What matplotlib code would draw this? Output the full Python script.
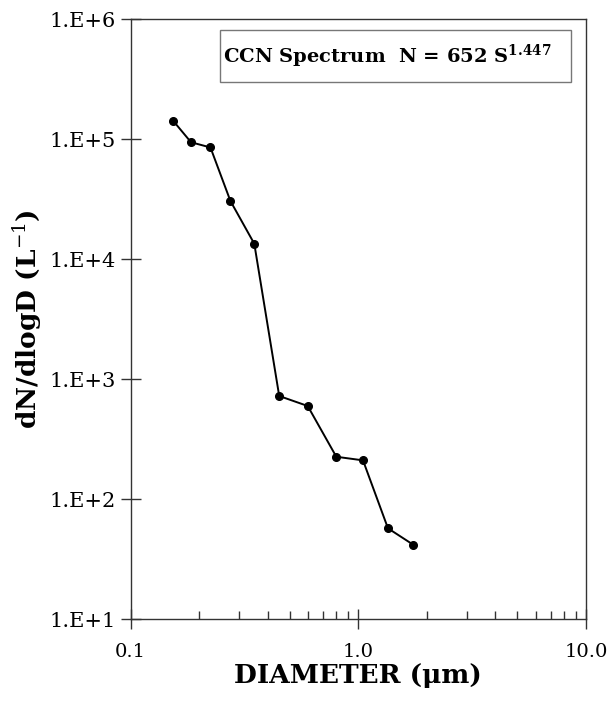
import matplotlib.pyplot as plt
from matplotlib.patches import Rectangle
from matplotlib.ticker import FixedLocator, LogLocator, NullFormatter
import numpy as np

# diametro (um) e dN/dlogD (L-1)
diametro = [0.154, 0.184, 0.224, 0.274, 0.349, 0.449, 0.599, 0.800, 1.048, 1.349, 1.742]
dndlogd = [1.41e5, 9.4e4, 8.5e4, 3.05e4, 1.34e4, 722, 596, 225, 210, 57, 41.6]

yticks = [1e1, 1e2, 1e3, 1e4, 1e5, 1e6]
ylabels = ['1.E+1', '1.E+2', '1.E+3', '1.E+4', '1.E+5', '1.E+6']
xticks = [0.1, 1.0, 10.0]
xlabels = ['0.1', '1.0', '10.0']

plt.rcParams['font.family'] = ['DejaVu Serif']
plt.rcParams['mathtext.fontset'] = 'dejavuserif'

fig = plt.figure(figsize=(6.10, 7.09), dpi=100)
ax = fig.add_axes([0.2143, 0.1269, 0.7464, 0.8463])

ax.plot(diametro, dndlogd, color='black', linewidth=1.4, marker='o', markersize=5.5)

ax.set_xscale('log')
ax.set_yscale('log')
ax.set_xlim(0.1, 10)
ax.set_ylim(10, 1e6)

ax.xaxis.set_major_locator(FixedLocator(xticks))
ax.set_xticklabels(xlabels)
ax.xaxis.set_minor_locator(LogLocator(base=10, subs=np.arange(2, 10)))
ax.xaxis.set_minor_formatter(NullFormatter())
ax.yaxis.set_major_locator(FixedLocator(yticks))
ax.set_yticklabels(ylabels)
ax.yaxis.set_minor_locator(FixedLocator([]))

ax.tick_params(axis='both', which='major', direction='inout', length=14, width=1.0,
               color='#333333')
ax.tick_params(axis='x', which='minor', direction='in', length=6, width=1.0, color='#333333')
ax.tick_params(axis='y', which='major', pad=4, labelsize=15)
ax.tick_params(axis='x', which='major', pad=10, labelsize=14)

for s in ax.spines.values():
    s.set_color('#333333')
    s.set_linewidth(1.0)

ax.set_xlabel('DIAMETER (\u03bcm)', fontsize=19, fontweight='bold', labelpad=2)
ax.set_ylabel('dN/dlogD (L$^{-1}$)', fontsize=19, fontweight='bold', labelpad=4)

# caixa da legenda com a equacao
ax.add_patch(Rectangle((0.196, 0.895), 0.771, 0.087, transform=ax.transAxes,
                       facecolor='white', edgecolor='#777777', linewidth=1.0, zorder=3))
ax.text(0.203, 0.937, 'CCN Spectrum  N = 652 S$^{\\mathbf{1.447}}$', transform=ax.transAxes,
        fontsize=14, fontweight='bold', va='center', ha='left', zorder=4)

plt.savefig('out.png', dpi=100)
plt.close()
